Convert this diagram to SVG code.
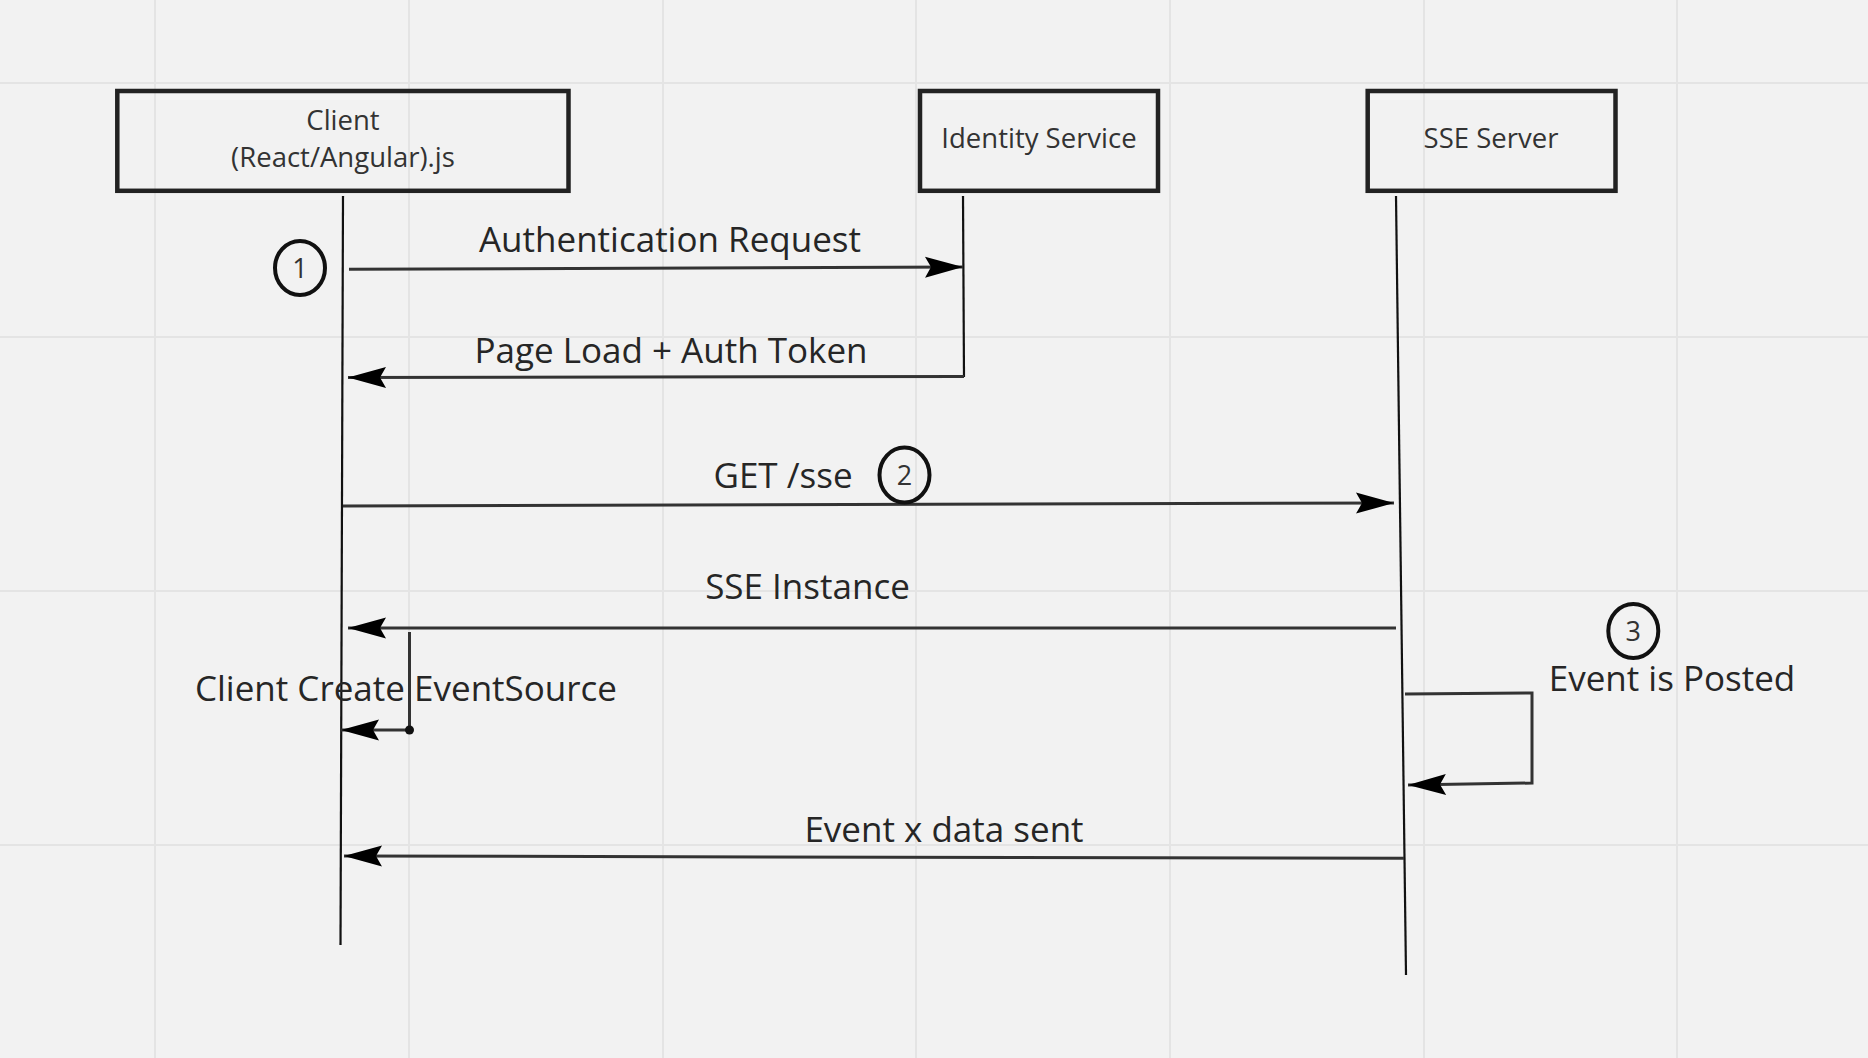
<svg xmlns="http://www.w3.org/2000/svg" width="1868" height="1058" viewBox="0 0 1868 1058">
  <defs>
    <style>
      .grid { stroke: #e4e4e4; stroke-width: 2; fill: none; }
      .box { fill: none; stroke: #222; stroke-width: 4.5; }
      .boxtext { font-family: "Open Sans", "Liberation Sans", sans-serif; font-size: 27.5px; fill: #333; text-anchor: middle; }
      .label { font-family: "Open Sans", "Liberation Sans", sans-serif; font-size: 35px; fill: #262626; text-anchor: middle; }
      .life { stroke: #111; stroke-width: 2.2; fill: none; }
      .msg { stroke: #333; stroke-width: 3; fill: none; }
      .step { fill: none; stroke: #111; stroke-width: 4; }
      .stepnum { font-family: "Open Sans", "Liberation Sans", sans-serif; font-size: 27px; fill: #333; text-anchor: middle; }
    </style>
    <marker id="arrow" viewBox="-40 -12 42 24" refX="0" refY="0" markerWidth="42" markerHeight="24" markerUnits="userSpaceOnUse" orient="auto">
      <path d="M0,0 L-38,-10.5 L-32,0 L-38,10.5 Z" fill="#000"/>
    </marker>
  </defs>

  <rect x="0" y="0" width="1868" height="1058" fill="#f2f2f2"/>

  <g id="grid">
    <line class="grid" x1="155" y1="0" x2="155" y2="1058"/>
    <line class="grid" x1="409" y1="0" x2="409" y2="1058"/>
    <line class="grid" x1="663" y1="0" x2="663" y2="1058"/>
    <line class="grid" x1="916" y1="0" x2="916" y2="1058"/>
    <line class="grid" x1="1170" y1="0" x2="1170" y2="1058"/>
    <line class="grid" x1="1424" y1="0" x2="1424" y2="1058"/>
    <line class="grid" x1="1677" y1="0" x2="1677" y2="1058"/>
    <line class="grid" x1="0" y1="83" x2="1868" y2="83"/>
    <line class="grid" x1="0" y1="337" x2="1868" y2="337"/>
    <line class="grid" x1="0" y1="591" x2="1868" y2="591"/>
    <line class="grid" x1="0" y1="845" x2="1868" y2="845"/>
  </g>

  <g id="node-client">
    <rect class="box" x="117.3" y="91" width="451.2" height="99.8"/>
    <text class="boxtext" x="343" y="130">Client</text>
    <text class="boxtext" x="343" y="166.7">(React/Angular).js</text>
  </g>

  <g id="node-identity">
    <rect class="box" x="920" y="91" width="238" height="99.8"/>
    <text class="boxtext" x="1039" y="148.3">Identity Service</text>
  </g>

  <g id="node-sse">
    <rect class="box" x="1367.7" y="91" width="247.8" height="99.8"/>
    <text class="boxtext" x="1491" y="148.3">SSE Server</text>
  </g>

  <g id="lifelines">
    <line class="life" x1="343" y1="196" x2="340.5" y2="945"/>
    <line class="life" x1="963" y1="196" x2="964" y2="377"/>
    <line class="life" x1="1396" y1="196" x2="1406" y2="975"/>
  </g>

  <g id="connectors">
    <path class="msg" d="M349,269.3 L963,267" marker-end="url(#arrow)"/>
    <path class="msg" d="M964,376.5 L348,377.6" marker-end="url(#arrow)"/>
    <path class="msg" d="M343,506 L1394,503" marker-end="url(#arrow)"/>
    <path class="msg" d="M1396,628 L348,628" marker-end="url(#arrow)"/>
    <path class="msg" d="M409.5,632 L409.5,730 L341,730" marker-end="url(#arrow)"/>
    <circle cx="409.5" cy="730" r="4.5" fill="#111"/>
    <path class="msg" d="M1405,694 L1532,693 L1532,783 L1408,785" marker-end="url(#arrow)"/>
    <path class="msg" d="M1404,858.3 L344,856" marker-end="url(#arrow)"/>
  </g>

  <g id="labels">
    <text class="label" x="670" y="252">Authentication Request</text>
    <text class="label" x="671" y="363">Page Load + Auth Token</text>
    <text class="label" x="783" y="488">GET /sse</text>
    <text class="label" x="807.5" y="599">SSE Instance</text>
    <text class="label" x="406" y="701">Client Create EventSource</text>
    <text class="label" x="1672" y="691">Event is Posted</text>
    <text class="label" x="944" y="842">Event x data sent</text>
  </g>

  <g id="step-1">
    <ellipse class="step" cx="300" cy="268" rx="25" ry="27"/>
    <text class="stepnum" x="300" y="277.5">1</text>
  </g>
  <g id="step-2">
    <ellipse class="step" cx="904.5" cy="475" rx="25" ry="27.5"/>
    <text class="stepnum" x="904.5" y="484.5">2</text>
  </g>
  <g id="step-3">
    <ellipse class="step" cx="1633.3" cy="631" rx="25" ry="27"/>
    <text class="stepnum" x="1633.3" y="640.5">3</text>
  </g>
</svg>
